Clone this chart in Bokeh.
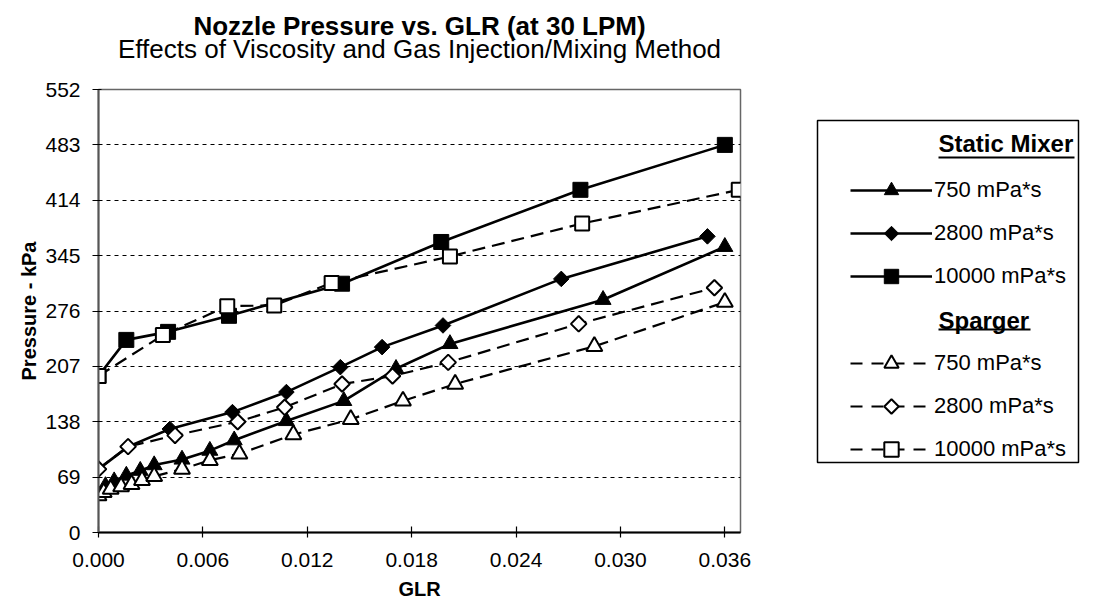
import math
from bokeh.plotting import figure
from bokeh.layouts import row
from bokeh.models import (Range1d, FixedTicker, PrintfTickFormatter, Legend, LegendItem,
                          Label, BoxAnnotation, Title)
from bokeh.embed import file_html
from bokeh.resources import INLINE

FONT = "Liberation Sans"

# ---------------- data ----------------
x_ticks = [0.000, 0.006, 0.012, 0.018, 0.024, 0.030, 0.036]
y_ticks = [0, 69, 138, 207, 276, 345, 414, 483, 552]

sm750_glr = [0.0000, 0.0004, 0.0009, 0.0016, 0.0024, 0.0032, 0.0048, 0.0064, 0.0078, 0.0108, 0.0141, 0.0171, 0.0202, 0.0290, 0.0360]
sm750_p = [46, 58, 64, 71, 77, 84, 91, 102, 115, 139, 164, 204, 235, 290, 356]

sm2800_glr = [0.0000, 0.0017, 0.0041, 0.0077, 0.0108, 0.0139, 0.0163, 0.0198, 0.0266, 0.0350]
sm2800_p = [79, 107, 129, 150, 175, 206, 231, 258, 316, 369]

sm10000_glr = [0.0000, 0.0016, 0.0040, 0.0075, 0.0140, 0.0197, 0.0277, 0.0360]
sm10000_p = [195, 240, 250, 270, 310, 362, 427, 483]

sp750_glr = [0.0000, 0.0003, 0.0007, 0.0013, 0.0019, 0.0025, 0.0032, 0.0048, 0.0064, 0.0081, 0.0112, 0.0145, 0.0175, 0.0205, 0.0285, 0.0360]
sp750_p = [46, 50, 54, 57, 60, 65, 70, 79, 90, 98, 122, 141, 164, 185, 232, 287]

sp2800_glr = [0.0000, 0.0017, 0.0044, 0.0080, 0.0107, 0.0140, 0.0169, 0.0201, 0.0276, 0.0354]
sp2800_p = [79, 107, 121, 138, 156, 185, 195, 212, 260, 305]

sp10000_glr = [0.0000, 0.0037, 0.0074, 0.0101, 0.0134, 0.0202, 0.0278, 0.0368]
sp10000_p = [195, 246, 282, 283, 311, 344, 385, 427]

labels = ["750 mPa*s", "2800 mPa*s", "10000 mPa*s"]
group_titles = ["Static Mixer", "Sparger"]

H = 603
TOP, BOT = 89, 532

# ---------------- main figure ----------------
p = figure(width=760, height=H, title=None,
           x_range=Range1d(0, 0.0369), y_range=Range1d(0, 552),
           output_backend="svg", toolbar_location=None,
           min_border_left=98, min_border_right=20, min_border_top=TOP, min_border_bottom=H - BOT)
p.background_fill_color = "white"
p.border_fill_color = "white"
p.outline_line_color = "#666666"
p.outline_line_width = 1.5

p.add_layout(Title(text="Effects of Viscosity and Gas Injection/Mixing Method", align="center",
                   text_font=FONT, text_font_size="26px", text_font_style="normal",
                   text_color="black", standoff=51), "above")
p.add_layout(Title(text="Nozzle Pressure vs. GLR (at 30 LPM)", align="center",
                   text_font=FONT, text_font_size="26px", text_font_style="bold",
                   text_color="black", standoff=-68), "above")

p.xaxis.ticker = FixedTicker(ticks=x_ticks)
p.xaxis.formatter = PrintfTickFormatter(format="%.3f")
p.yaxis.ticker = FixedTicker(ticks=y_ticks)
for ax in (p.xaxis, p.yaxis):
    ax.major_label_text_font = FONT
    ax.major_label_text_font_size = "21px"
    ax.major_label_text_color = "black"
    ax.axis_label_text_font = FONT
    ax.axis_label_text_font_size = "20px"
    ax.axis_label_text_font_style = "bold"
    ax.axis_label_text_color = "black"
    ax.minor_tick_line_color = None
    ax.major_tick_line_color = "black"
    ax.major_tick_line_width = 1.2
p.xaxis.axis_label = "GLR"
p.yaxis.axis_label = "Pressure - kPa"
p.xaxis.major_tick_in = 6
p.xaxis.major_tick_out = 5
p.yaxis.major_tick_in = 3
p.yaxis.major_tick_out = 6
p.xaxis.axis_line_color = "black"
p.xaxis.axis_line_width = 2
p.yaxis.axis_line_color = "#555555"
p.yaxis.axis_line_width = 2
p.xaxis.major_label_standoff = 15
p.yaxis.major_label_standoff = 12
p.xaxis.axis_label_standoff = 8
p.yaxis.axis_label_standoff = 2

p.xgrid.visible = False
p.ygrid.ticker = FixedTicker(ticks=y_ticks[1:-1])
p.ygrid.grid_line_color = "black"
p.ygrid.grid_line_width = 1.2
p.ygrid.grid_line_dash = "4 4"

# marker specs: (marker, size, angle)
mk_specs = [("triangle", 16, 0.0), ("square", 11, math.pi / 4), ("square", 15, 0.0)]
static = [(sm750_glr, sm750_p), (sm2800_glr, sm2800_p), (sm10000_glr, sm10000_p)]
sparger = [(sp750_glr, sp750_p), (sp2800_glr, sp2800_p), (sp10000_glr, sp10000_p)]

SOLID = dict(line_color="black", line_width=2.6)
DASH = dict(line_color="black", line_width=2.2, line_dash="13 7")

def open_size(mk, sz, ang):
    return sz - 1 if (mk == "square" and ang == 0) else sz

for (gx, py), (mk, sz, ang) in zip(static, mk_specs):
    p.line(gx, py, **SOLID)
    p.scatter(gx, py, marker=mk, size=sz, angle=ang, fill_color="black", line_color="black", line_width=1)
for (gx, py), (mk, sz, ang) in zip(sparger, mk_specs):
    p.line(gx, py, **DASH)
    p.scatter(gx, py, marker=mk, size=open_size(mk, sz, ang), angle=ang,
              fill_color="white", line_color="black", line_width=2)

# ---------------- legend figure (same series, out of view, used as legend proxies) ----------------
q = figure(width=332, height=H, x_range=Range1d(10, 11), y_range=Range1d(10, 11),
           output_backend="svg", toolbar_location=None, title=None,
           x_axis_location=None, y_axis_location=None,
           min_border_left=0, min_border_right=0, min_border_top=TOP, min_border_bottom=H - BOT)
q.grid.visible = False
q.outline_line_color = None
q.background_fill_color = "white"
q.border_fill_color = "white"


def proxy_marker(gx, py, mk, ang, filled):
    fill = "black" if filled else "white"
    lw = 1 if filled else 2
    if ang != 0:
        return q.ngon(gx, py, radius=1, n=4, fill_color=fill, line_color="black", line_width=lw)
    return q.scatter(gx, py, marker=mk, size=10, fill_color=fill, line_color="black", line_width=lw)


items_a, items_b = [], []
for (gx, py), (mk, sz, ang), lab in zip(static, mk_specs, labels):
    lr = q.line(gx, py, **SOLID)
    sr = proxy_marker(gx, py, mk, ang, True)
    items_a.append(LegendItem(label=lab, renderers=[lr, sr]))
for (gx, py), (mk, sz, ang), lab in zip(sparger, mk_specs, labels):
    lr = q.line(gx, py, line_color="black", line_width=2.2, line_dash="12 9")
    sr = proxy_marker(gx, py, mk, ang, False)
    items_b.append(LegendItem(label=lab, renderers=[lr, sr]))

common = dict(border_line_alpha=0, background_fill_alpha=0, padding=0, margin=0, spacing=7,
              glyph_width=82, glyph_height=36, label_height=36, label_standoff=2,
              label_text_font=FONT, label_text_font_size="22px", label_text_color="black")
q.add_layout(Legend(items=items_a, location=(90, 238), **common))
q.add_layout(Legend(items=items_b, location=(90, 65), **common))

# legend frame
q.add_layout(BoxAnnotation(left=57, right=318, top=412, bottom=70,
                           left_units="screen", right_units="screen",
                           top_units="screen", bottom_units="screen",
                           fill_alpha=0, line_color="black", line_width=1.5,
                           line_alpha=1, line_dash="solid"))

for txt, ty, uy, uw in [(group_titles[0], 389, 375, 136), (group_titles[1], 212, 203, 92)]:
    q.add_layout(Label(x=178, y=ty, x_units="screen", y_units="screen", text=txt,
                       text_font=FONT, text_font_style="bold", text_font_size="24px",
                       text_baseline="middle", text_color="black"))
    q.add_layout(BoxAnnotation(left=178, right=178 + uw, top=uy + 1, bottom=uy - 1,
                               left_units="screen", right_units="screen",
                               top_units="screen", bottom_units="screen",
                               fill_color="black", fill_alpha=1, line_alpha=0))

layout = row(p, q)
open("out.html", "w").write(file_html(layout, INLINE))
